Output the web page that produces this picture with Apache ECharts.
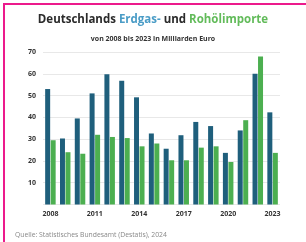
<!DOCTYPE html>
<html>
<head>
<meta charset="utf-8">
<script src="https://cdn.jsdelivr.net/npm/echarts@6/dist/echarts.min.js"></script>
<style>
  html, body { margin: 0; padding: 0; background: #fff; }
  #frame {
    position: absolute; left: 3px; top: 3px; width: 303px; height: 239px;
    border-left: 2px solid #ec1a8c; border-top: 2px solid #ec1a8c;
    box-sizing: border-box;
  }
  #chart { position: absolute; left: 0; top: 0; width: 306px; height: 242px; }
</style>
</head>
<body>
<div id="frame"></div>
<div id="chart"></div>
<script>
// Jahre 2008 - 2023
const years = ['2008', '2009', '2010', '2011', '2012', '2013', '2014', '2015',
  '2016', '2017', '2018', '2019', '2020', '2021', '2022', '2023'];
// Erdgasimporte in Mrd. Euro
const gasValues = [53, 30.3, 39.5, 51, 59.8, 56.8, 49.2, 32.6,
  25.6, 31.8, 37.9, 36, 23.7, 34, 60, 42.3];
// Rohölimporte in Mrd. Euro
const oilValues = [29.5, 24, 23.3, 32, 31, 30.5, 26.7, 28,
  20.3, 20.3, 26.1, 26.7, 19.5, 38.7, 67.9, 23.7];
const yTicks = [0, 10, 20, 30, 40, 50, 60, 70];

const chart = echarts.init(document.getElementById('chart'));

const option = {
  backgroundColor: 'transparent',
  animation: false,
  title: [
    {
      text: '{a|Deutschlands }{b|Erdgas-}{a| und }{c|Rohölimporte}',
      left: 'center',
      top: 9,
      textStyle: {
        rich: {
          a: { fontFamily: 'Open Sans', fontWeight: 'bold', fontSize: 11.5, color: '#2b2b2b' },
          b: { fontFamily: 'Open Sans', fontWeight: 'bold', fontSize: 11.5, color: '#4a9cc6' },
          c: { fontFamily: 'Open Sans', fontWeight: 'bold', fontSize: 11.5, color: '#62bb5a' }
        }
      }
    },
    {
      text: 'von 2008 bis 2023 in Milliarden Euro',
      left: 'center',
      top: 30,
      textStyle: { fontFamily: 'Open Sans', fontWeight: 'bold', fontSize: 7, color: '#333' }
    },
    {
      text: 'Quelle: Statistisches Bundesamt (Destatis), 2024',
      left: 10,
      top: 227,
      textStyle: { fontFamily: 'Open Sans', fontWeight: 'normal', fontSize: 6.8, color: '#888' }
    }
  ],
  grid: { left: 43, right: 26, top: 52, bottom: 37.5 },
  xAxis: {
    type: 'category',
    data: years,
    axisLine: { show: false },
    axisTick: { show: false },
    axisLabel: {
      interval: 2,
      margin: 6,
      fontFamily: 'Open Sans',
      fontWeight: 'bold',
      fontSize: 7,
      color: '#333'
    }
  },
  yAxis: {
    type: 'value',
    min: yTicks[0],
    max: yTicks[yTicks.length - 1],
    interval: 10,
    axisLine: { show: false },
    axisTick: { show: false },
    splitLine: { lineStyle: { color: '#e8e8e8', width: 1 } },
    axisLabel: {
      margin: 7,
      fontFamily: 'Open Sans',
      fontWeight: 'bold',
      fontSize: 7,
      color: '#333',
      formatter: v => (v === 0 ? '' : String(v))
    }
  },
  series: [
    {
      name: 'Erdgas',
      type: 'bar',
      data: gasValues,
      barWidth: 5,
      barGap: '10%',
      itemStyle: { color: '#1f5f7c' }
    },
    {
      name: 'Rohöl',
      type: 'bar',
      data: oilValues,
      barWidth: 5,
      itemStyle: { color: '#4caf50' }
    }
  ]
};

chart.setOption(option);
</script>
</body>
</html>
